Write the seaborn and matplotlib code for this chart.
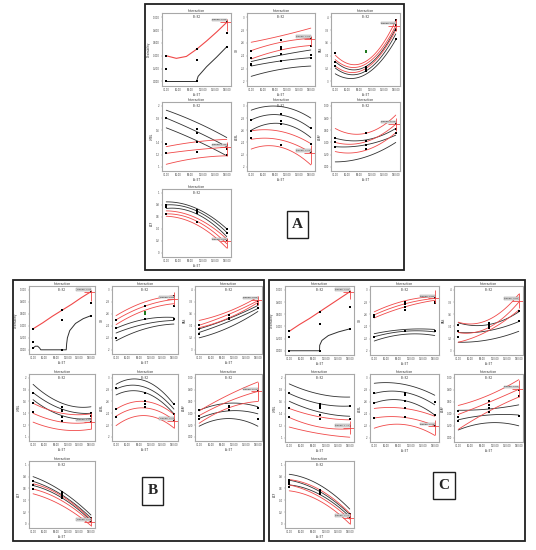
import numpy as np
import matplotlib
matplotlib.use("Agg")
import matplotlib.pyplot as plt
import seaborn as sns
from matplotlib.patches import Rectangle

sns.set_theme(style="white")
plt.rcParams['font.family'] = ['DejaVu Sans']

# design levels of factor A and axis ticks
x_levels = [30, 105, 180]
x_dense = [30, 55, 80, 105, 130, 155, 180]
x_ticks = [30, 60, 90, 120, 150, 180]

responses = ["Desirability", "GR", "RAS", "LMBL", "ASBL", "ASAF", "ACF"]
y_first = [0.0, 2.0, 3.0, 1.0, 2.0, 0.0, 0.0]
y_fmt = ["{:.3f}", "{:g}", "{:g}", "{:g}", "{:g}", "{:.2f}", "{:g}"]

# ---------------- panel A ----------------
A_D_red = [0.40, 0.36, 0.39, 0.50, 0.63, 0.77, 0.92]
A_D_black_x = [30, 55, 80, 105, 109, 130, 155, 180]
A_D_black = [0, 0, 0, 0, 0.08, 0.23, 0.38, 0.54]
A_D_pts = [(30, 0.40), (30, 0.20), (30, 0.0), (105, 0.50), (105, 0.33), (105, 0.0),
           (180, 0.92), (180, 0.76), (180, 0.54)]
A_D_cross = (0.92, 0.79, 0.97)

A_GR_red = [[2.61, 2.71, 2.83], [2.48, 2.61, 2.67], [2.35, 2.49, 2.56]]
A_GR_black = [[2.31, 2.41, 2.49], [2.24, 2.32, 2.37], [2.08, 2.19, 2.24]]
A_GR_pts = [(30, 2.48), (30, 2.36), (30, 2.27), (30, 2.25), (105, 2.64), (105, 2.53), (105, 2.50),
            (105, 2.43), (105, 2.32), (180, 2.67), (180, 2.55), (180, 2.41), (180, 2.37)]
A_GR_cross = (2.66, 2.55, 2.71)

A_RAS_red = [[3.41, 3.31, 3.95], [3.34, 3.27, 3.87], [3.24, 3.20, 3.80]]
A_RAS_black = [[3.31, 3.23, 3.83], [3.21, 3.16, 3.74], [3.12, 3.11, 3.65]]
A_RAS_pts = [(30, 3.44), (30, 3.31), (30, 3.24), (105, 3.23), (105, 3.20), (105, 3.16),
             (180, 3.95), (180, 3.88), (180, 3.80), (180, 3.66)]
A_RAS_green = [(105, 3.48), (105, 3.46)]
A_RAS_cross = (3.87, 3.78, 3.97)

A_LMBL_red = [[1.33, 1.41, 1.45], [1.22, 1.28, 1.32], [1.04, 1.14, 1.18]]
A_LMBL_black = [[1.93, 1.73, 1.48], [1.80, 1.58, 1.33], [1.64, 1.43, 1.18]]
A_LMBL_pts = [(30, 1.80), (30, 1.38), (30, 1.22), (105, 1.62), (105, 1.55), (105, 1.41),
              (105, 1.25), (180, 1.36), (180, 1.30), (180, 1.20)]
A_LMBL_cross = (1.32, 1.18, 1.40)

A_ASBL_red = [[2.59, 2.58, 2.38], [2.45, 2.44, 2.23], [2.29, 2.32, 2.03]]
A_ASBL_black = [[2.93, 2.99, 2.80], [2.77, 2.85, 2.63], [2.60, 2.71, 2.48]]
A_ASBL_pts = [(30, 2.77), (30, 2.59), (30, 2.47), (105, 2.86), (105, 2.75), (105, 2.70),
              (105, 2.35), (180, 2.63), (180, 2.37), (180, 2.25)]
A_ASBL_cross = (2.23, 2.05, 2.35)

A_ASAF_red = [[0.63, 0.55, 0.85], [0.40, 0.41, 0.70], [0.25, 0.27, 0.56]]
A_ASAF_black = [[0.47, 0.44, 0.63], [0.33, 0.36, 0.52], [0.08, 0.16, 0.40]]
A_ASAF_pts = [(30, 0.47), (30, 0.40), (30, 0.32), (105, 0.56), (105, 0.43), (105, 0.36),
              (105, 0.30), (180, 0.70), (180, 0.62), (180, 0.55)]
A_ASAF_cross = (0.70, 0.58, 0.80)

A_ACF_red = [[0.70, 0.58, 0.23], [0.65, 0.53, 0.15], [0.61, 0.47, 0.08]]
A_ACF_black = [[0.85, 0.74, 0.40], [0.80, 0.70, 0.34], [0.74, 0.65, 0.27]]
A_ACF_pts = [(30, 0.80), (30, 0.77), (30, 0.65), (105, 0.72), (105, 0.69), (105, 0.67),
             (105, 0.52), (180, 0.40), (180, 0.33), (180, 0.22)]
A_ACF_cross = (0.19, 0.08, 0.25)

# ---------------- panel B ----------------
B_D_red = [0.35, 0.45, 0.56, 0.66, 0.76, 0.87, 0.97]
B_D_black_x = [30, 36, 42, 47, 50, 116, 117, 119, 125, 140, 160, 180]
B_D_black = [0.03, 0.06, 0.06, 0.03, 0.0, 0.0, 0.10, 0.20, 0.32, 0.44, 0.52, 0.57]
B_D_pts = [(30, 0.35), (30, 0.13), (30, 0.03), (105, 0.66), (105, 0.49), (105, 0.0),
           (180, 0.97), (180, 0.78), (180, 0.57)]
B_D_cross = (0.97, 0.82, 1.0)

B_GR_red = [[2.57, 2.80, 2.90], [2.50, 2.73, 2.84], [2.42, 2.66, 2.77]]
B_GR_black = [[2.36, 2.51, 2.54], [2.28, 2.43, 2.49], [2.15, 2.35, 2.43]]
B_GR_pts = [(30, 2.49), (30, 2.37), (30, 2.20), (105, 2.73), (105, 2.51),
            (180, 2.89), (180, 2.73), (180, 2.52)]
B_GR_green = [(105, 2.63), (105, 2.60)]
B_GR_cross = (2.84, 2.74, 2.97)

B_RAS_red = [[3.49, 3.64, 3.88], [3.41, 3.59, 3.82], [3.37, 3.53, 3.79]]
B_RAS_black = [[3.35, 3.52, 3.74], [3.29, 3.47, 3.69], [3.20, 3.37, 3.64]]
B_RAS_pts = [(30, 3.41), (30, 3.35), (30, 3.27), (105, 3.58), (105, 3.53), (105, 3.51),
             (180, 3.82), (180, 3.77), (180, 3.69)]
B_RAS_cross = (3.83, 3.74, 3.90)

B_LMBL_red = [[1.57, 1.40, 1.39], [1.40, 1.25, 1.25], [1.25, 1.12, 1.13]]
B_LMBL_black = [[1.89, 1.57, 1.51], [1.75, 1.47, 1.40], [1.63, 1.36, 1.31]]
B_LMBL_pts = [(30, 1.75), (30, 1.58), (30, 1.42), (105, 1.50), (105, 1.45), (105, 1.43),
              (105, 1.34), (105, 1.27), (180, 1.40), (180, 1.36), (180, 1.25)]
B_LMBL_cross = (1.25, 1.13, 1.40)

B_ASBL_red = [[2.47, 2.60, 2.38], [2.35, 2.49, 2.28], [2.19, 2.36, 2.15]]
B_ASBL_black = [[2.89, 2.95, 2.55], [2.81, 2.84, 2.47], [2.71, 2.75, 2.39]]
B_ASBL_pts = [(30, 2.82), (30, 2.47), (30, 2.34), (105, 2.75), (105, 2.60), (105, 2.55),
              (105, 2.50), (180, 2.55), (180, 2.38), (180, 2.28)]
B_ASBL_cross = (2.27, 2.15, 2.40)

B_ASAF_red = [[0.44, 0.71, 0.93], [0.36, 0.60, 0.77], [0.23, 0.49, 0.60]]
B_ASAF_black = [[0.45, 0.57, 0.51], [0.31, 0.44, 0.39], [0.18, 0.31, 0.18]]
B_ASAF_pts = [(30, 0.45), (30, 0.36), (30, 0.30), (105, 0.53), (105, 0.50), (105, 0.45),
              (180, 0.77), (180, 0.49), (180, 0.31)]
B_ASAF_cross = (0.77, 0.60, 0.93)

B_ACF_red = [[0.68, 0.47, 0.07], [0.59, 0.39, 0.02], [0.51, 0.31, -0.03]]
B_ACF_black = [[0.80, 0.55, 0.15], [0.72, 0.49, 0.10], [0.65, 0.44, 0.05]]
B_ACF_pts = [(30, 0.73), (30, 0.66), (30, 0.59), (105, 0.54), (105, 0.51), (105, 0.47),
             (105, 0.44), (180, 0.10), (180, 0.05)]
B_ACF_cross = (0.04, -0.03, 0.12)

# ---------------- panel C ----------------
C_D_red = [0.32, 0.43, 0.53, 0.64, 0.75, 0.86, 0.97]
C_D_black_x = [30, 105, 105.5, 111, 127, 152, 180]
C_D_black = [0, 0, 0.09, 0.17, 0.25, 0.31, 0.36]
C_D_pts = [(30, 0.32), (30, 0.23), (30, 0.0), (105, 0.64), (105, 0.44), (105, 0.0),
           (180, 0.97), (180, 0.72), (180, 0.36)]
C_D_cross = (0.97, 0.85, 1.0)

C_GR_red = [[2.64, 2.82, 2.89], [2.59, 2.77, 2.86], [2.54, 2.72, 2.83]]
C_GR_black = [[2.28, 2.35, 2.35], [2.23, 2.32, 2.31], [2.16, 2.27, 2.25]]
C_GR_pts = [(30, 2.58), (30, 2.55), (30, 2.22), (105, 2.80), (105, 2.77), (105, 2.72),
            (105, 2.67), (105, 2.32), (180, 2.87), (180, 2.81), (180, 2.78), (180, 2.32)]
C_GR_cross = (2.86, 2.78, 3.0)

C_RAS_red = [[3.47, 3.51, 3.93], [3.30, 3.38, 3.80], [3.14, 3.33, 3.67]]
C_RAS_black = [[3.46, 3.43, 3.64], [3.30, 3.33, 3.48], [3.14, 3.18, 3.32]]
C_RAS_pts = [(30, 3.43), (30, 3.33), (30, 3.22), (105, 3.46), (105, 3.43), (105, 3.40),
             (105, 3.37), (180, 3.65), (180, 3.49)]
C_RAS_cross = (3.82, 3.70, 3.95)

C_LMBL_red = [[1.49, 1.35, 1.30], [1.34, 1.18, 1.15], [1.18, 1.07, 1.01]]
C_LMBL_black = [[1.90, 1.73, 1.68], [1.74, 1.57, 1.53], [1.61, 1.43, 1.36]]
C_LMBL_pts = [(30, 1.75), (30, 1.49), (30, 1.34), (105, 1.56), (105, 1.53), (105, 1.50),
              (105, 1.38), (105, 1.32), (180, 1.53), (180, 1.32), (180, 1.20)]
C_LMBL_cross = (1.17, 1.07, 1.28)

C_ASBL_red = [[2.49, 2.49, 2.36], [2.33, 2.34, 2.20], [2.16, 2.22, 2.04]]
C_ASBL_black = [[2.91, 2.89, 2.71], [2.74, 2.76, 2.55], [2.58, 2.62, 2.38]]
C_ASBL_pts = [(30, 2.74), (30, 2.58), (30, 2.33), (105, 2.74), (105, 2.72), (105, 2.62),
              (105, 2.49), (105, 2.34), (180, 2.60), (180, 2.38), (180, 2.20)]
C_ASBL_cross = (2.19, 2.04, 2.30)

C_ASAF_red = [[0.54, 0.71, 0.97], [0.39, 0.59, 0.81], [0.14, 0.44, 0.68]]
C_ASAF_black = [[0.46, 0.48, 0.55], [0.30, 0.38, 0.38], [0.13, 0.25, 0.20]]
C_ASAF_pts = [(30, 0.45), (30, 0.35), (30, 0.28), (105, 0.62), (105, 0.55), (105, 0.50),
              (105, 0.43), (180, 0.80), (180, 0.70), (180, 0.37)]
C_ASAF_cross = (0.81, 0.68, 0.97)

C_ACF_red = [[0.75, 0.58, 0.18], [0.66, 0.46, 0.08], [0.56, 0.39, 0.0]]
C_ACF_black = [[0.84, 0.66, 0.25], [0.74, 0.55, 0.16], [0.66, 0.50, 0.12]]
C_ACF_pts = [(30, 0.75), (30, 0.71), (30, 0.67), (30, 0.63), (105, 0.57), (105, 0.54),
             (105, 0.50), (180, 0.16), (180, 0.11)]
C_ACF_cross = (0.10, 0.0, 0.18)

panels = {
    "A": [(A_D_red, (A_D_black_x, A_D_black), A_D_pts, [], A_D_cross),
          (A_GR_red, A_GR_black, A_GR_pts, [], A_GR_cross),
          (A_RAS_red, A_RAS_black, A_RAS_pts, A_RAS_green, A_RAS_cross),
          (A_LMBL_red, A_LMBL_black, A_LMBL_pts, [], A_LMBL_cross),
          (A_ASBL_red, A_ASBL_black, A_ASBL_pts, [], A_ASBL_cross),
          (A_ASAF_red, A_ASAF_black, A_ASAF_pts, [], A_ASAF_cross),
          (A_ACF_red, A_ACF_black, A_ACF_pts, [], A_ACF_cross)],
    "B": [(B_D_red, (B_D_black_x, B_D_black), B_D_pts, [], B_D_cross),
          (B_GR_red, B_GR_black, B_GR_pts, B_GR_green, B_GR_cross),
          (B_RAS_red, B_RAS_black, B_RAS_pts, [], B_RAS_cross),
          (B_LMBL_red, B_LMBL_black, B_LMBL_pts, [], B_LMBL_cross),
          (B_ASBL_red, B_ASBL_black, B_ASBL_pts, [], B_ASBL_cross),
          (B_ASAF_red, B_ASAF_black, B_ASAF_pts, [], B_ASAF_cross),
          (B_ACF_red, B_ACF_black, B_ACF_pts, [], B_ACF_cross)],
    "C": [(C_D_red, (C_D_black_x, C_D_black), C_D_pts, [], C_D_cross),
          (C_GR_red, C_GR_black, C_GR_pts, [], C_GR_cross),
          (C_RAS_red, C_RAS_black, C_RAS_pts, [], C_RAS_cross),
          (C_LMBL_red, C_LMBL_black, C_LMBL_pts, [], C_LMBL_cross),
          (C_ASBL_red, C_ASBL_black, C_ASBL_pts, [], C_ASBL_cross),
          (C_ASAF_red, C_ASAF_black, C_ASAF_pts, [], C_ASAF_cross),
          (C_ACF_red, C_ACF_black, C_ACF_pts, [], C_ACF_cross)],
}

# layout in pixels (figure 536 x 550)
W, H = 536, 550
panel_box = {"A": (145, 4, 404, 270), "B": (13, 280, 264, 541), "C": (269, 280, 525, 541)}
col_x = {"A": [(162, 231), (247, 315), (331, 400)],
         "B": [(29, 95), (112, 178), (195, 262)],
         "C": [(285, 354), (370, 439), (454, 523)]}
row_y = {"A": [(13, 86), (102, 171), (189, 257)],
         "B": [(286, 354), (374, 441), (461, 528)],
         "C": [(286, 355), (374, 442), (461, 528)]}
label_box = {"A": (287, 211, 308, 238), "B": (142, 477, 163, 505), "C": (433, 472, 455, 499)}

RED = "#f04848"
BLK = "#303030"


def frac(x0, y0, x1, y1):
    return [x0 / W, 1 - y1 / H, (x1 - x0) / W, (y1 - y0) / H]


def draw_cell(ax, i, red, black, pts, green, cross):
    if i == 0:
        sns.lineplot(x=black[0], y=black[1], ax=ax, color=BLK, lw=0.7)
        sns.lineplot(x=x_dense, y=red, ax=ax, color=RED, lw=0.8)
    else:
        for line in black:
            sns.regplot(x=np.array(x_levels), y=np.array(line), order=2, ci=None,
                        scatter=False, ax=ax, color=BLK, line_kws={"lw": 0.6})
        for line in red:
            sns.regplot(x=np.array(x_levels), y=np.array(line), order=2, ci=None,
                        scatter=False, ax=ax, color=RED, line_kws={"lw": 0.6})
    px, py = zip(*pts)
    sns.scatterplot(x=list(px), y=list(py), ax=ax, marker="s", s=2.5, color="black",
                    linewidth=0, legend=False, zorder=5)
    if green:
        gx, gy = zip(*green)
        sns.scatterplot(x=list(gx), y=list(gy), ax=ax, marker="s", s=3, color="#1f7a1f",
                        linewidth=0, legend=False, zorder=5)

    y0 = y_first[i]
    ax.set_xlim(19.5, 190.5)
    ax.set_ylim(y0 - 0.07, y0 + 1.065)
    # crosshair at the right design level
    c, lo, hi = cross
    ax.hlines(c, x_levels[-1] - 18, 190.5, color=RED, lw=0.6, zorder=6)
    ax.vlines(x_levels[-1], lo, hi, color=RED, lw=0.6, zorder=6)
    ax.text(x_levels[-1] - 1, c + 0.03, "Design: %.2f" % c, fontsize=1.6, ha="right",
            va="bottom", color="#333",
            bbox=dict(boxstyle="square,pad=0.35", fc="#d9d9d9", ec="#909090", lw=0.3),
            zorder=7)

    yt = [y0 + 0.2 * k for k in range(6)]
    ax.set_yticks(yt)
    ax.set_yticklabels([y_fmt[i].format(round(v, 3)) for v in yt])
    ax.set_xticks(x_ticks)
    ax.set_xticklabels(["%.2f" % v for v in x_ticks])
    ax.tick_params(axis="both", labelsize=1.8, length=1.0, width=0.3, pad=0.6,
                   colors="#888888", labelcolor="#444444")
    ax.tick_params(left=True, bottom=True)
    for s in ax.spines.values():
        s.set_color("#a8a8a8")
        s.set_linewidth(0.8)
    ax.set_title("Interaction", fontsize=2.3, pad=0.8, color="#333")
    ax.text(0.5, 0.94, "B: K2", transform=ax.transAxes, fontsize=2.0, ha="center",
            va="center", color="#333")
    ax.set_xlabel("A: ET", fontsize=2.0, labelpad=0.8, color="#333")
    ax.set_ylabel(responses[i], fontsize=2.0, labelpad=1.2, color="#333")


fig = plt.figure(figsize=(W / 100, H / 100), dpi=100)

for name, cells in panels.items():
    x0, y0, x1, y1 = panel_box[name]
    fig.patches.append(Rectangle((x0 / W, 1 - y1 / H), (x1 - x0) / W, (y1 - y0) / H,
                                 transform=fig.transFigure, fill=False, ec="#202020",
                                 lw=1.3, zorder=0))
    for i, cell in enumerate(cells):
        r, col = divmod(i, 3)
        ax = fig.add_axes(frac(col_x[name][col][0], row_y[name][r][0],
                               col_x[name][col][1], row_y[name][r][1]))
        ax.set_facecolor("white")
        draw_cell(ax, i, *cell)
    bx0, by0, bx1, by1 = label_box[name]
    fig.patches.append(Rectangle((bx0 / W, 1 - by1 / H), (bx1 - bx0) / W, (by1 - by0) / H,
                                 transform=fig.transFigure, fill=False, ec="#202020",
                                 lw=1.0, zorder=0))
    fig.text((bx0 + bx1) / 2 / W, 1 - (by0 + by1) / 2 / H, name, ha="center", va="center",
             fontsize=11, fontweight="bold", family="Liberation Serif")

fig.savefig("out.png", dpi=100)
